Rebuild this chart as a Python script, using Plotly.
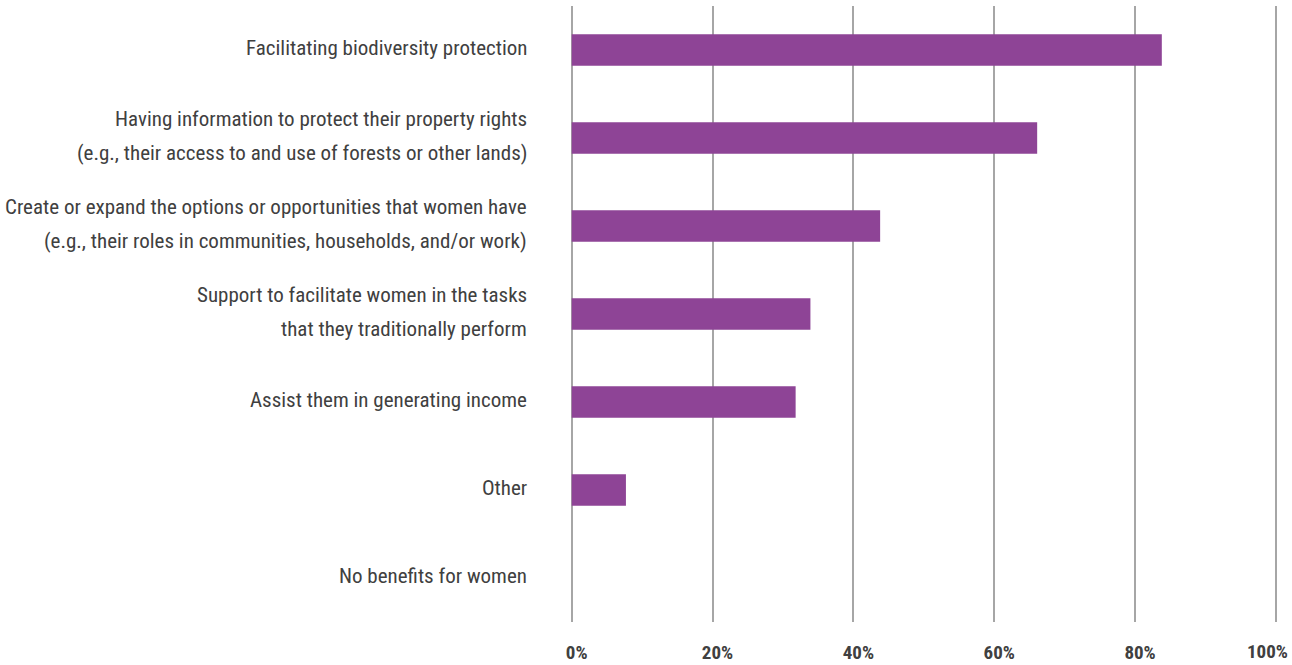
import plotly.graph_objects as go

# Survey responses: perceived benefits for women
categories = [
    "Facilitating biodiversity protection",
    "Having information to protect their property rights\n(e.g., their access to and use of forests or other lands)",
    "Create or expand the options or opportunities that women have\n(e.g., their roles in communities, households, and/or work)",
    "Support to facilitate women in the tasks\nthat they traditionally perform",
    "Assist them in generating income",
    "Other",
    "No benefits for women",
]
shares = [0.838, 0.661, 0.438, 0.339, 0.318, 0.077, 0.0]
tick_values = [0, 0.2, 0.4, 0.6, 0.8, 1.0]
tick_labels = ["0%", "20%", "40%", "60%", "80%", "100%"]

FONT = "Liberation Sans Narrow, Roboto Condensed, DejaVu Sans Condensed, Arial Narrow, sans-serif"
TEXT = "#404040"
BAR = "#8E4496"
GRID = "#a6a6a6"
LINE_GAP = 34
TICK_FONT = dict(family=FONT, size=19, color=TEXT, weight="bold")

fig = go.Figure(
    go.Bar(
        x=shares,
        y=categories,
        orientation="h",
        width=0.36,
        marker=dict(color=BAR, line=dict(width=0)),
        hoverinfo="skip",
    )
)

# Category labels, one annotation per text line for wider line spacing
annotations = []
for cat in categories:
    lines = cat.split("\n")
    n = len(lines)
    for i, line in enumerate(lines):
        offset = ((n - 1) / 2 - i) * LINE_GAP
        annotations.append(
            dict(
                text=line,
                xref="paper",
                x=0,
                xanchor="right",
                xshift=-42,
                yref="y",
                y=cat,
                yanchor="middle",
                yshift=offset + 2,
                showarrow=False,
                font=dict(family=FONT, size=21, color=TEXT),
            )
        )

# The last tick label sits against the right edge of the page
axis_labels = tick_labels[:-1] + [""]
annotations.append(
    dict(
        text=tick_labels[-1],
        xref="x",
        x=tick_values[-1],
        xanchor="right",
        xshift=14,
        yref="paper",
        y=0,
        yanchor="middle",
        yshift=-29,
        showarrow=False,
        font=TICK_FONT,
    )
)

fig.update_layout(
    width=1292,
    height=665,
    margin=dict(l=571, r=14, t=6, b=43, autoexpand=False),
    plot_bgcolor="white",
    paper_bgcolor="white",
    showlegend=False,
    annotations=annotations,
    xaxis=dict(
        range=[-0.001, 1.003],
        tickvals=tick_values,
        ticktext=axis_labels,
        showgrid=True,
        gridcolor=GRID,
        gridwidth=1.5,
        zeroline=True,
        zerolinecolor=GRID,
        zerolinewidth=1.5,
        showline=False,
        ticks="",
        automargin=False,
        ticklabelstandoff=17,
        ticklabelshift=5,
        ticklabeloverflow="allow",
        tickfont=TICK_FONT,
        fixedrange=True,
    ),
    yaxis=dict(
        categoryorder="array",
        categoryarray=categories,
        range=[6.5, -0.5],
        showticklabels=False,
        showgrid=False,
        zeroline=False,
        showline=False,
        ticks="",
        automargin=False,
        fixedrange=True,
    ),
)

fig.write_html("out.html", config={"displayModeBar": False})
